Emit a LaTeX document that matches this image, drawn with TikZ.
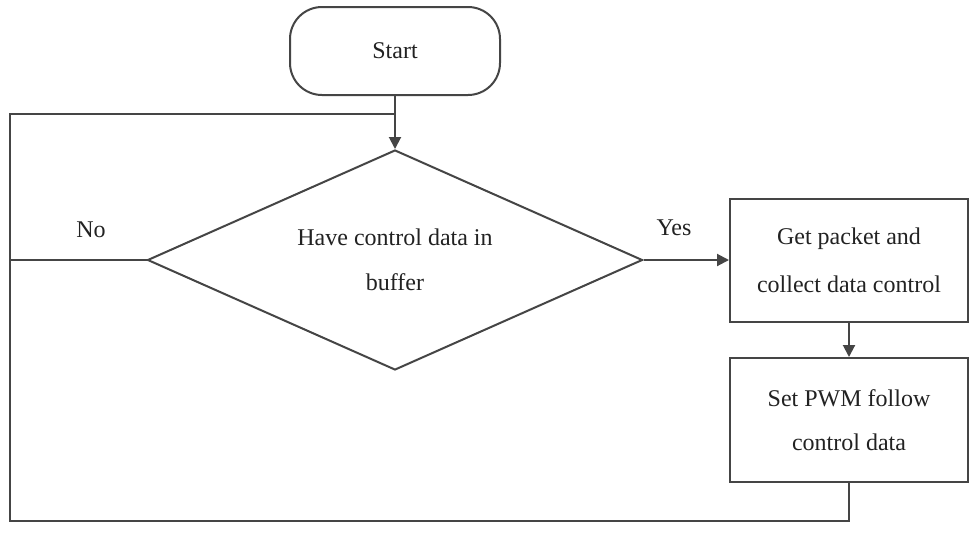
\documentclass[tikz,border=0pt]{standalone}
\usepackage{fontspec}
\setmainfont{Liberation Serif}
\usetikzlibrary{shapes.geometric,arrows.meta}
\definecolor{ink}{HTML}{454545}
\definecolor{txt}{HTML}{222222}
\tikzset{
  conn/.style={draw=ink, line width=2pt},
  arr/.style={conn, -{Triangle[length=12pt,width=12pt]}},
  boxst/.style={draw=ink, line width=2pt, rectangle, inner sep=0pt, align=center, text=txt,
    font=\fontsize{24}{48}\selectfont},
  lbl/.style={text=txt, font=\fontsize{24}{28}\selectfont, inner sep=0pt}
}
\begin{document}
\begin{tikzpicture}[x=1pt,y=-1pt]
\useasboundingbox[fill=white] (0,0) rectangle (971,533);
\node[boxst, rounded corners=32pt, minimum width=210pt, minimum height=88pt] (start) at (395,51) {Start};
\node[boxst, diamond, shape aspect=2.25, minimum width=495pt, minimum height=220pt, font=\fontsize{24}{45}\selectfont] (dec) at (395,260) {Have control data in\\buffer};
\node[boxst, minimum width=238pt, minimum height=123pt] (b1) at (849,260) {Get packet and\\collect data control};
\node[boxst, minimum width=238pt, minimum height=124pt, font=\fontsize{24}{44}\selectfont] (b2) at (849,420) {Set PWM follow\\control data};
\coordinate (bl) at (10,521);
\coordinate (tl) at (10,114);
\coordinate (join) at (395,114);
\coordinate (nol) at (10,260);
\draw[arr] (start.south) -- (dec.north);
\draw[arr] (dec.east) -- (b1.west);
\draw[arr] (b1.south) -- (b2.north);
\draw[conn] (b2.south) |- (bl) -- (tl) -- (join);
\draw[conn] (dec.west) -- (nol);
\node[lbl] (no) at (91,230) {No};
\node[lbl] (yes) at (674,228) {Yes};
\end{tikzpicture}
\end{document}
